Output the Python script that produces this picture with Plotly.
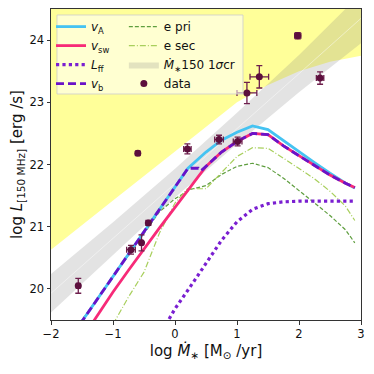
import plotly.graph_objects as go

# ---------------- data ----------------
# yellow allowed-region lower boundary
yellow_x = [-2.0, -1.0, 0.0, 1.0, 1.5, 2.0, 2.5, 3.0]
yellow_y = [20.63, 21.42, 22.21, 23.0, 23.28, 23.5, 23.65, 23.75]

# grey 1-sigma band (Mdot*150 relation)
band_x = [-2.0, -1.0, 0.0, 1.0, 2.0, 3.0]
band_mid = [19.93, 20.81, 21.70, 22.58, 23.46, 24.35]
band_lo = [19.62, 20.55, 21.47, 22.33, 23.16, 23.95]
band_hi = [20.24, 21.07, 21.93, 22.83, 23.76, 24.75]

# model curves
vA_x = [-1.75, -1.5, -1.25, -1.0, -0.75, -0.5, -0.25, 0.0, 0.21, 0.5, 0.75, 1.0, 1.25, 1.5, 1.75, 2.0, 2.25, 2.5, 2.75, 2.9]
vA_y = [19.12, 19.48, 19.85, 20.21, 20.57, 20.93, 21.29, 21.63, 21.94, 22.2, 22.39, 22.52, 22.62, 22.56, 22.38, 22.2, 22.03, 21.86, 21.7, 21.62]

vsw_x = [-1.5, -1.25, -1.0, -0.75, -0.5, -0.25, 0.0, 0.25, 0.5, 0.75, 1.0, 1.25, 1.5, 1.75, 2.0, 2.25, 2.5, 2.75, 2.9]
vsw_y = [19.2, 19.58, 19.95, 20.3, 20.65, 20.98, 21.31, 21.65, 21.97, 22.2, 22.37, 22.5, 22.48, 22.3, 22.14, 21.98, 21.83, 21.7, 21.63]

vb_x = [-1.75, -1.5, -1.25, -1.0, -0.75, -0.5, -0.25, 0.0, 0.21, 0.38, 0.42, 0.5, 0.75, 1.0, 1.25, 1.5, 1.75, 2.0, 2.25, 2.5, 2.75, 2.9]
vb_y = [19.12, 19.48, 19.85, 20.21, 20.57, 20.93, 21.29, 21.63, 21.94, 21.94, 21.9, 21.97, 22.2, 22.37, 22.5, 22.48, 22.3, 22.14, 21.98, 21.83, 21.7, 21.63]

Lff_x = [-0.25, 0.0, 0.25, 0.5, 0.75, 1.0, 1.25, 1.5, 1.75, 2.0, 2.5, 2.9]
Lff_y = [19.25, 19.68, 20.04, 20.42, 20.78, 21.08, 21.28, 21.37, 21.40, 21.41, 21.41, 21.41]

epri_x = [-1.75, -1.5, -1.25, -1.0, -0.75, -0.5, -0.25, 0.0, 0.25, 0.5, 0.75, 1.0, 1.25, 1.5, 1.75, 2.0, 2.25, 2.5, 2.75, 2.9]
epri_y = [19.15, 19.5, 19.86, 20.2, 20.56, 20.9, 21.24, 21.45, 21.6, 21.66, 21.84, 21.97, 22.02, 21.95, 21.78, 21.58, 21.38, 21.18, 20.95, 20.74]

esec_x = [-1.0, -0.75, -0.5, -0.25, 0.0, 0.2, 0.5, 0.75, 1.0, 1.25, 1.5, 1.75, 2.0, 2.25, 2.5, 2.75, 2.9]
esec_y = [19.43, 19.87, 20.27, 20.9, 21.38, 21.61, 21.61, 21.87, 22.13, 22.27, 22.26, 22.1, 21.93, 21.77, 21.57, 21.33, 21.1]

# observed data
data_x = [-1.56, -0.71, -0.54, -0.43, -0.60, 0.20, 0.71, 1.01, 1.16, 1.36, 1.98, 2.34]
data_y = [20.05, 20.63, 20.74, 21.06, 22.18, 22.25, 22.40, 22.37, 23.15, 23.41, 24.07, 23.39]
data_xerr = [0.03, 0.07, 0.02, 0.03, 0.03, 0.06, 0.07, 0.07, 0.16, 0.15, 0.05, 0.06]
data_yerr = [0.12, 0.07, 0.13, 0.04, 0.03, 0.08, 0.07, 0.07, 0.17, 0.18, 0.05, 0.10]

# ---------------- figure ----------------
fig = go.Figure()

# yellow region
fig.add_trace(go.Scatter(
    x=yellow_x + [3.0, -2.0], y=yellow_y + [25.0, 25.0],
    fill="toself", fillcolor="rgba(255,255,0,0.40)", mode="none",
    showlegend=False, hoverinfo="skip"))

# grey band
fig.add_trace(go.Scatter(x=band_x, y=band_lo, mode="lines", line=dict(width=0),
                         showlegend=False, hoverinfo="skip"))
fig.add_trace(go.Scatter(x=band_x, y=band_hi, mode="lines", line=dict(width=0),
                         fill="tonexty", fillcolor="rgba(128,128,128,0.22)",
                         name="<i>Ṁ</i><sub>∗</sub>150 1<i>σ</i>cr", legend="legend2",
                         legendrank=3, hoverinfo="skip"))
fig.add_trace(go.Scatter(x=band_x, y=band_mid, mode="lines",
                         line=dict(width=1, color="rgba(255,255,255,0.45)"),
                         showlegend=False, hoverinfo="skip"))

lw = 2.8
fig.add_trace(go.Scatter(x=epri_x, y=epri_y, mode="lines", name="e pri",
                         line=dict(color="#5f9e3f", width=1.2, dash="4px,2px"),
                         legend="legend2", legendrank=1))
fig.add_trace(go.Scatter(x=esec_x, y=esec_y, mode="lines", name="e sec",
                         line=dict(color="#a8cf5c", width=1.2, dash="6px,2px,1px,2px"),
                         legend="legend2", legendrank=2))
fig.add_trace(go.Scatter(x=Lff_x, y=Lff_y, mode="lines", name="<i>L</i><sub>ff</sub>",
                         line=dict(color="#7a1fd1", width=3.2, dash="dot"),
                         legend="legend", legendrank=3))
fig.add_trace(go.Scatter(x=vA_x, y=vA_y, mode="lines", name="<i>v</i><sub>A</sub>",
                         line=dict(color="#45c3f2", width=lw),
                         legend="legend", legendrank=1))
fig.add_trace(go.Scatter(x=vsw_x, y=vsw_y, mode="lines", name="<i>v</i><sub>sw</sub>",
                         line=dict(color="#f72a78", width=lw),
                         legend="legend", legendrank=2))
fig.add_trace(go.Scatter(x=vb_x, y=vb_y, mode="lines", name="<i>v</i><sub>b</sub>",
                         line=dict(color="#6a12c8", width=lw, dash="8px,4px"),
                         legend="legend", legendrank=4))

fig.add_trace(go.Scatter(
    x=data_x, y=data_y, mode="markers", name="data",
    marker=dict(color="#5c0f3d", size=7),
    error_x=dict(type="data", array=data_xerr, color="#6e1f4d", thickness=1.3, width=3),
    error_y=dict(type="data", array=data_yerr, color="#6e1f4d", thickness=1.3, width=3),
    legend="legend2", legendrank=4))

axis_common = dict(showline=True, linecolor="#333", linewidth=1, mirror=True,
                   ticks="outside", ticklen=3.5, tickcolor="#333", tickwidth=1,
                   showgrid=False, zeroline=False, automargin=False,
                   tickfont=dict(family="DejaVu Sans", size=11.5, color="#111"))

leg_common = dict(xanchor="left", yanchor="top", bgcolor="rgba(0,0,0,0)", borderwidth=0,
                  font=dict(family="DejaVu Sans", size=12, color="#111"),
                  tracegroupgap=0, itemwidth=30, traceorder="normal")

# the page body adds an 8 px offset, so the figure is 366 px and margins are reduced
fig.update_layout(
    width=366, height=366,
    margin=dict(l=43, r=13, t=1, b=54),
    paper_bgcolor="white", plot_bgcolor="white",
    font=dict(family="DejaVu Sans", color="#111"),
    xaxis=dict(range=[-2, 3], tickvals=[-2, -1, 0, 1, 2, 3],
               title=dict(text="log <i>Ṁ</i><sub>∗</sub> [M<sub>⊙</sub> /yr]",
                          font=dict(size=15), standoff=4),
               **axis_common),
    yaxis=dict(range=[19.5, 24.5], tickvals=[20, 21, 22, 23, 24],
               title=dict(text="log <i>L</i><sub>[150 MHz]</sub> [erg /s]",
                          font=dict(size=15), standoff=4),
               **axis_common),
    legend=dict(x=0.0, y=0.99, **leg_common),
    legend2=dict(x=0.235, y=0.99, **leg_common),
    shapes=[dict(type="rect", xref="paper", yref="paper",
                 x0=(57 - 51) / 310, x1=(243 - 51) / 310,
                 y0=1 - (94 - 9) / 311, y1=1 - (15 - 9) / 311,
                 fillcolor="rgba(255,255,255,0.55)",
                 line=dict(color="rgba(204,204,204,0.8)", width=1),
                 layer="above")],
)

fig.write_html("out.html")
